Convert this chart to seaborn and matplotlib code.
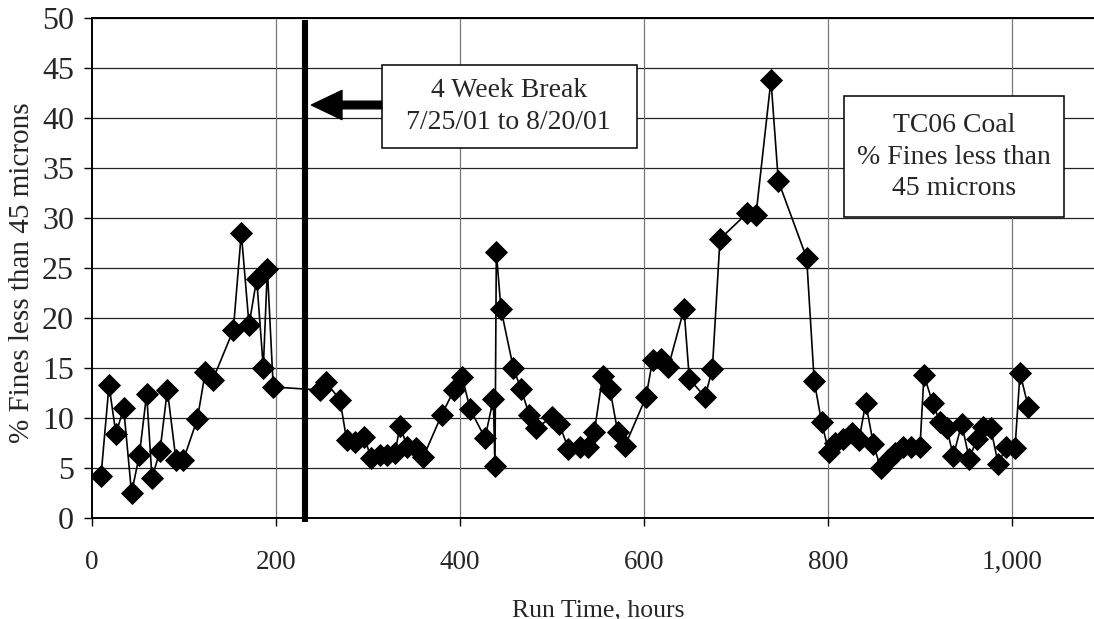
import matplotlib
matplotlib.use("Agg")
import matplotlib.pyplot as plt
from matplotlib.patches import Rectangle
from matplotlib.ticker import FuncFormatter
import seaborn as sns
import pandas as pd

# ---- data ----
run_hours = [
    9.8, 18.5, 26.0, 34.4, 43.0, 51.5, 59.4, 65.2, 73.9, 81.9, 91.3, 99.3,
    114.5, 123.2, 131.2, 153.6, 162.3, 170.7, 179.0, 186.2, 190.6, 197.0,
    247.8, 254.3, 269.6, 276.8, 285.9, 296.0, 303.3, 313.0, 321.0, 329.3,
    334.8, 342.8, 352.2, 360.1, 380.0, 393.5, 402.5, 410.9, 427.2, 436.2,
    438.0, 439.5, 444.5, 458.0, 466.3, 475.4, 482.6, 500.4, 508.0, 517.8,
    530.4, 539.5, 546.0, 555.0, 563.0, 571.4, 579.3, 602.2, 609.4, 618.5,
    626.4, 643.5, 649.3, 666.3, 674.3, 682.6, 712.3, 721.7, 738.0, 746.0,
    776.8, 785.0, 793.0, 800.9, 807.6, 816.7, 825.7, 833.7, 841.0, 849.3,
    857.2, 864.9, 872.8, 881.2, 890.2, 900.0, 904.3, 913.8, 921.7, 929.0,
    936.2, 945.3, 953.6, 961.6, 968.1, 976.8, 985.1, 993.5, 1003.3, 1008.7,
    1017.7,
]
fines_pct = [
    4.2, 13.3, 8.4, 11.0, 2.5, 6.3, 12.4, 4.0, 6.7, 12.8, 5.8, 5.8,
    9.9, 14.6, 13.8, 18.8, 28.5, 19.3, 23.9, 15.0, 24.9, 13.1,
    12.8, 13.6, 11.8, 7.8, 7.6, 8.1, 6.0, 6.3, 6.3, 6.5,
    9.2, 7.1, 7.0, 6.1, 10.3, 12.8, 14.1, 10.9, 8.0, 11.9,
    5.2, 26.6, 20.9, 15.0, 12.9, 10.3, 9.0, 10.1, 9.4, 6.9,
    7.1, 7.1, 8.6, 14.2, 12.9, 8.6, 7.2, 12.1, 15.8, 15.9,
    15.1, 20.9, 13.9, 12.1, 14.9, 27.9, 30.5, 30.3, 43.8, 33.7,
    26.0, 13.7, 9.6, 6.6, 7.5, 7.9, 8.5, 7.8, 11.5, 7.4,
    5.0, 5.8, 6.5, 7.1, 7.1, 7.1, 14.3, 11.5, 9.6, 9.0,
    6.2, 9.4, 5.9, 7.9, 9.1, 9.0, 5.4, 7.1, 7.0, 14.5,
    11.1,
]
x_ticks = [0, 200, 400, 600, 800, 1000]
y_ticks = [0, 5, 10, 15, 20, 25, 30, 35, 40, 45, 50]
x_label = "Run Time, hours"
y_label = "% Fines less than 45 microns"
break_text = "4 Week Break\n7/25/01 to 8/20/01"
legend_text = "TC06 Coal\n% Fines less than\n45 microns"
break_hour = 231.8

df = pd.DataFrame({"hours": run_hours, "fines": fines_pct})

sns.set_style("white")
plt.rcParams["font.family"] = ["Liberation Serif", "DejaVu Serif"]

fig = plt.figure(figsize=(10.94, 6.19), dpi=100)
ax = fig.add_axes([92 / 1094, 101 / 619, 1012 / 1094, 500 / 619])

# grid
for yv in y_ticks[1:]:
    ax.axhline(yv, color="#222222", lw=0.9, zorder=0)
for xv in x_ticks[1:]:
    ax.axvline(xv, color="#777777", lw=0.9, zorder=0)

sns.lineplot(data=df, x="hours", y="fines", sort=False, estimator=None,
             color="black", lw=1.2, marker="D", markersize=11.5,
             markeredgecolor="black", markeredgewidth=0.6, ax=ax, zorder=3)

ax.set_xlim(0, 1100)
ax.set_ylim(0, 50)
ax.set_xticks(x_ticks)
ax.set_yticks(y_ticks)
ax.xaxis.set_major_formatter(FuncFormatter(lambda v, p: f"{int(v):,}"))
ax.tick_params(axis="x", direction="out", length=6, width=1, color="black",
               labelsize=19.5, pad=17)
ax.tick_params(axis="y", direction="out", length=6, width=1, color="black",
               labelsize=23, pad=7)
ax.tick_params(bottom=True, left=True)
for s in ax.spines.values():
    s.set_color("black")
    s.set_linewidth(1.4)

ax.set_xlabel(x_label, fontsize=18.5)
ax.set_ylabel(y_label, fontsize=21)
ax.xaxis.set_label_coords(0.5, -0.162)
ax.yaxis.set_label_coords(-0.056, 0.49)

# thick break line
ax.plot([break_hour, break_hour], [-0.35, 49.8], color="black", lw=4.4,
        solid_capstyle="butt", clip_on=False, zorder=4)

# break annotation box
ax.add_patch(Rectangle((314.9, 37.0), 592.0 - 314.9, 45.3 - 37.0,
                       facecolor="white", edgecolor="black", lw=1.1, zorder=5))
ax.text(453.0, 41.15, break_text, ha="center", va="center", fontsize=20,
        linespacing=1.35, zorder=6)
ax.annotate("", xy=(238.5, 41.3), xytext=(314.9, 41.3),
            arrowprops=dict(facecolor="black", edgecolor="black", width=5.5,
                            headwidth=21, headlength=22, shrink=0),
            zorder=6)

# series label box
ax.add_patch(Rectangle((817.4, 30.1), 1056.5 - 817.4, 42.2 - 30.1,
                       facecolor="white", edgecolor="black", lw=1.1, zorder=5))
ax.text(937.0, 36.1, legend_text, ha="center", va="center", fontsize=20,
        linespacing=1.35, zorder=6)

fig.savefig("out.png", dpi=100)
